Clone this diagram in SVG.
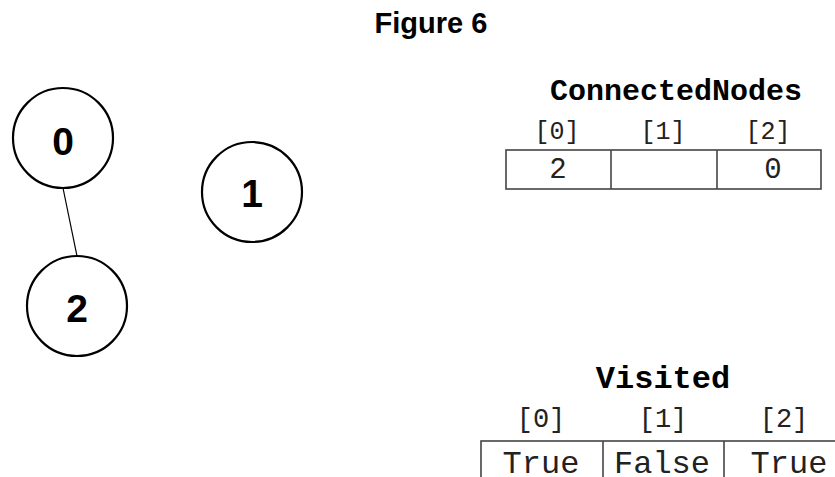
<svg xmlns="http://www.w3.org/2000/svg" width="835" height="477" viewBox="0 0 835 477">
<style>
.node{fill:#fff;stroke:#000;stroke-width:2.2}
.nl{font-family:"Liberation Sans",Arial,sans-serif;font-weight:bold;font-size:39px;text-anchor:middle;fill:#000}
.title{font-family:"Liberation Sans",Arial,sans-serif;font-weight:bold;font-size:29px;text-anchor:middle;fill:#000}
.mono{font-family:"Liberation Mono","Courier New",monospace;text-anchor:middle;fill:#222}
.hd{font-weight:bold;fill:#000}
.cell{fill:none;stroke:#444;stroke-width:1.6}
.edge{stroke:#000;stroke-width:1.2;fill:none}
</style>
<rect width="835" height="477" fill="#fff"/>
<text class="title" x="431" y="33">Figure 6</text>
<g id="connectors">
<line class="edge" x1="63" y1="188" x2="77" y2="256"/>
</g>
<g id="node0">
<circle class="node" cx="63" cy="138" r="50"/>
<text class="nl" x="63" y="155">0</text>
</g>
<g id="node1">
<circle class="node" cx="252" cy="192" r="50"/>
<text class="nl" x="252" y="207">1</text>
</g>
<g id="node2">
<circle class="node" cx="77" cy="306" r="50"/>
<text class="nl" x="77" y="322">2</text>
</g>
<g id="connectedNodes">
<text class="mono hd" x="676" y="100" font-size="30">ConnectedNodes</text>
<text class="mono" x="557" y="139" font-size="25">[0]</text>
<text class="mono" x="663" y="139" font-size="25">[1]</text>
<text class="mono" x="768" y="139" font-size="25">[2]</text>
<rect class="cell" x="506" y="150" width="315" height="39"/>
<line class="cell" x1="611" y1="150" x2="611" y2="189"/>
<line class="cell" x1="717" y1="150" x2="717" y2="189"/>
<text class="mono" x="558" y="178" font-size="29">2</text>
<text class="mono" x="773" y="178" font-size="29">0</text>
</g>
<g id="visited">
<text class="mono hd" x="663" y="388" font-size="32">Visited</text>
<text class="mono" x="541" y="427" font-size="27">[0]</text>
<text class="mono" x="663" y="427" font-size="27">[1]</text>
<text class="mono" x="784" y="427" font-size="27">[2]</text>
<rect class="cell" x="481" y="441" width="370" height="60"/>
<line class="cell" x1="603" y1="441" x2="603" y2="477"/>
<line class="cell" x1="724" y1="441" x2="724" y2="477"/>
<text class="mono" x="541" y="473" font-size="32">True</text>
<text class="mono" x="662" y="473" font-size="32">False</text>
<text class="mono" x="789" y="473" font-size="32">True</text>
</g>
</svg>
